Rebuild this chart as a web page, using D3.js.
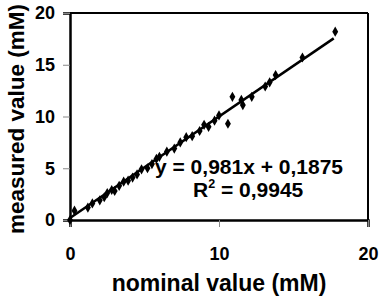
<!DOCTYPE html>
<html><head><meta charset="utf-8">
<script src="https://cdn.jsdelivr.net/npm/d3@7"></script>
<style>body{margin:0;background:#fff}svg{display:block;font-family:"Liberation Sans",Arial,sans-serif;font-weight:bold}</style>
</head><body>
<script>
const nominal  = [0, 0.3, 1.2, 1.5, 2.0, 2.3, 2.5, 2.8, 3.0, 3.3, 3.6, 3.9, 4.2, 4.5, 4.8, 5.2, 5.5, 5.8, 6.0, 6.5, 7.0, 7.4, 7.8, 8.2, 8.7, 9.0, 9.3, 9.7, 10.0, 10.6, 10.9, 11.5, 11.6, 12.2, 13.1, 13.4, 13.8, 15.6, 17.8];
const measured = [0, 0.9, 1.2, 1.6, 1.9, 2.2, 2.6, 2.9, 2.8, 3.3, 3.7, 3.8, 4.1, 4.4, 4.9, 5.0, 5.4, 5.9, 6.1, 6.6, 6.9, 7.5, 8.0, 8.1, 8.6, 9.2, 9.0, 9.6, 10.1, 9.3, 11.9, 11.6, 11.1, 11.9, 12.9, 13.3, 14.0, 15.7, 18.2];
const xTicks = [0, 10, 20];
const yTicks = [0, 5, 10, 15, 20];
const slope = 0.981, intercept = 0.1875;
const eqLabel = "y = 0,981x + 0,1875";
const r2Label = "0,9945";

const W = 379, H = 296;
const svg = d3.select("body").append("svg").attr("width", W).attr("height", H);
const x = d3.scaleLinear().domain([0, 20]).range([70, 368]);
const y = d3.scaleLinear().domain([0, 20]).range([220, 13]);

// frame top/right
svg.append("line").attr("x1", x(0)).attr("x2", x(20)).attr("y1", y(20)).attr("y2", y(20)).attr("stroke", "#000").attr("stroke-width", 2);
svg.append("line").attr("x1", x(20)).attr("x2", x(20)).attr("y1", y(20)).attr("y2", y(0)).attr("stroke", "#000").attr("stroke-width", 2);

const xAxis = svg.append("g").attr("transform", `translate(0,${y(0)})`)
  .call(d3.axisBottom(x).tickValues(xTicks).tickSize(7).tickPadding(20).tickFormat(d3.format("d")));
const yAxis = svg.append("g").attr("transform", `translate(${x(0)},0)`)
  .call(d3.axisLeft(y).tickValues(yTicks).tickSize(7).tickPadding(8).tickFormat(d3.format("d")));
[xAxis, yAxis].forEach(g => {
  g.select(".domain").attr("stroke", "#000").attr("stroke-width", 2.5);
  g.selectAll(".tick line").attr("stroke", "#888").attr("stroke-width", 1);
  g.selectAll("text").attr("fill", "#000").style("font-size", "18px").style("font-weight", "bold").style("font-family", '"Liberation Sans",Arial,sans-serif');
});

// regression line
const xr = [0, 17.7];
svg.append("line")
  .attr("x1", x(xr[0])).attr("y1", y(slope * xr[0] + intercept))
  .attr("x2", x(xr[1])).attr("y2", y(slope * xr[1] + intercept))
  .attr("stroke", "#000").attr("stroke-width", 2.5);

// points
svg.append("g").selectAll("path").data(nominal.map((v, i) => [v, measured[i]])).join("path")
  .attr("d", d3.symbol().type(d3.symbolDiamond).size(30))
  .attr("transform", d => `translate(${x(d[0])},${y(d[1])})`)
  .attr("fill", "#000");

// equation
svg.append("text").attr("x", 155).attr("y", 173.5).style("font-size", "21px").text(eqLabel);
const r = svg.append("text").attr("x", 193).attr("y", 197).style("font-size", "21px");
r.append("tspan").text("R");
r.append("tspan").attr("dy", -9).style("font-size", "12.5px").text("2");
r.append("tspan").attr("dy", 9).text(" = " + r2Label);

// axis titles
svg.append("text").attr("x", 219).attr("y", 291).attr("text-anchor", "middle").style("font-size", "23px").text("nominal value (mM)");
svg.append("text").attr("transform", "translate(24,119) rotate(-90)").attr("text-anchor", "middle").style("font-size", "22.5px").text("measured value (mM)");
</script>
</body></html>
